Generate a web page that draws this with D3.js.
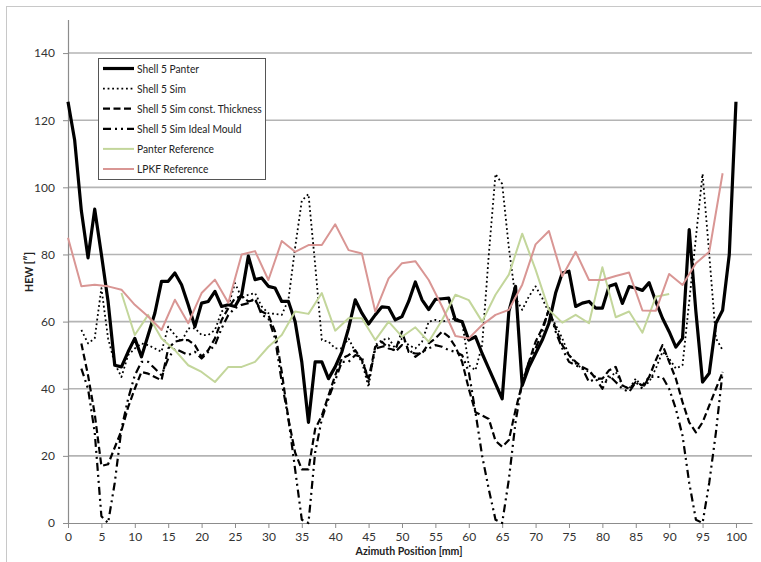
<!DOCTYPE html>
<html>
<head>
<meta charset="utf-8">
<script src="https://cdn.jsdelivr.net/npm/d3@7/dist/d3.min.js"></script>
<style>
  html, body { margin: 0; padding: 0; background: #fff; }
  svg { display: block; }
  svg text { font-family: Lato, "Open Sans", sans-serif; }
</style>
</head>
<body>
<svg id="chart" width="761" height="562"></svg>
<script>
// Azimuth positions (mm)
const panterX = d3.range(0, 101);
const simX = d3.range(2, 99);
const refX = d3.range(0, 99, 2);
const panterRefX = d3.range(8, 91, 2);

// Shell 5 Panter measurement, HEW ["] at 0..100 mm
const panterHEW = [
  125.5, 114, 93, 79, 93.5, 80, 66, 47, 46.5, 51,
  55, 49.5, 56, 62.5, 72, 72, 74.5, 71, 65, 58.5,
  65.5, 66, 69, 64.5, 65, 64.5, 68, 79.5, 72.5, 73,
  70.5, 70, 66, 66, 60, 48, 30, 48, 48, 43,
  46.5, 51, 58, 66.5, 62.5, 59.3, 62, 64.4, 64.2, 60.5,
  61.5, 66, 71.8, 66.5, 63.6, 66.6, 66.8, 67, 60.5, 60,
  54.5, 55.5, 50.5, 46, 41.5, 37, 63, 70.5, 41, 46.5,
  50.5, 54.5, 59.5, 68.5, 74.5, 75, 64.5, 65.5, 66, 64,
  64, 70.5, 71.2, 65.4, 70.4, 70, 69.3, 71.6, 66, 61,
  57, 52.4, 55, 87.4, 63, 42, 44.6, 59.5, 63.4, 80, 125.5
];

// Shell 5 Sim, 2..98 mm
const simHEW = [
  57.5, 53.5, 55, 70, 55, 47.5, 43.5, 50,
  52, 53.5, 53, 52, 51, 58.5, 56, 54, 58, 58,
  56, 56, 57.5, 63, 64.5, 71.5, 67, 68, 68.5, 64.5,
  62.5, 62.3, 62, 66.5, 82, 96, 98, 77, 54.5, 54,
  52, 52, 55, 51, 48, 40.5, 53, 54.5, 55, 52,
  55, 53, 52, 54, 60, 60.5, 60, 60.5, 61, 60,
  47, 45.5, 53, 80, 104, 101, 82, 67, 63.5, 67.5,
  70.5, 67, 62.5, 59, 55, 50, 47.5, 46, 45, 43.5,
  42, 43, 45, 41, 40, 43, 40.5, 42, 46, 51,
  49, 46, 47, 66, 85, 104, 80, 55, 51.5
];

// Shell 5 Sim const. Thickness, 2..98 mm
const constThickHEW = [
  53.5, 44, 32.5, 17, 17.5, 22.5, 27.5, 34.5,
  40, 45, 44.5, 43.5, 42.5, 52, 54, 54.5, 54.5, 53,
  49.5, 51.5, 55, 60.5, 64, 67, 67.5, 66, 66.5, 63,
  62, 57, 45, 31, 21, 16, 16, 28, 32, 38,
  44, 49, 50, 51.5, 48.5, 43, 52.5, 54, 52, 51.5,
  57, 51, 50.5, 50.5, 53.5, 55, 57, 55.5, 52.5, 48,
  40, 33, 32, 31, 24.5, 22.7, 24.7, 33.7, 41.6, 48,
  54, 58, 63.5, 58, 53, 50, 48, 46.5, 45.5, 43,
  43, 45.5, 46.5, 41, 40, 42, 41, 43.5, 48.5, 53,
  48, 43, 36, 30, 27, 30, 35, 40, 45
];

// Shell 5 Sim Ideal Mould, 2..98 mm
const idealMouldHEW = [
  46, 40, 27, 2, 0, 12, 28, 37,
  44, 48, 48, 46, 44, 49, 52, 51, 50, 51,
  49, 51, 53, 58, 62, 64, 65, 65.5, 67, 62,
  61, 55, 42, 31, 16, 1, 0, 21, 31, 37,
  42.5, 48, 48, 50, 49.5, 42, 52, 52.5, 53, 51,
  53, 52, 49.5, 51, 52, 53, 52.5, 51.5, 51, 50,
  45, 33, 20, 10, 1, 0, 13, 30, 42, 48,
  52, 57, 64, 57, 52, 48, 47, 46, 42, 43,
  40, 44, 42, 40, 39, 42, 40, 43.5, 43.5, 43.5,
  40, 34, 26, 12, 1, 0, 12, 27, 45
];

// Panter Reference, 8..90 mm
const panterRefHEW = [
  68.5, 56, 62, 55, 51.5, 47, 45, 42, 46.5, 46.5,
  48, 52.5, 56, 63, 62.3, 68.5, 57.3, 61, 61, 54.5,
  60, 55.5, 58.3, 54, 60.5, 68, 66.4, 60, 68, 74,
  86.2, 75.5, 63.5, 59.7, 62, 59.5, 76.2, 61.3, 63, 56.7,
  67.4, 68.2
];

// LPKF Reference, 0..98 mm
const lpkfRefHEW = [
  85, 70.5, 71, 70.5, 69.5, 65, 61.5, 57.5, 66.5, 59.5,
  68.5, 72.5, 65.6, 80, 81, 72.4, 84, 80.8, 82.8, 82.8,
  89, 81.3, 80.3, 63, 72.9, 77.4, 78, 72.4, 64.5, 55.7,
  55, 59, 62, 63.5, 71, 83, 87, 73.5, 80.8, 72.4,
  72.4, 73.6, 74.6, 63.3, 63.2, 74.2, 70.9, 77.4, 80.8, 104.2
];

const xTicks = d3.range(0, 101, 5);
const yTicks = d3.range(0, 141, 20);

const seriesNames = [
  "Shell 5 Panter", "Shell 5 Sim", "Shell 5 Sim const. Thickness",
  "Shell 5 Sim Ideal Mould", "Panter Reference", "LPKF Reference"
];

const series = [
  { name: seriesNames[0], xs: panterX, ys: panterHEW, color: "#000", width: 3.2, dash: null },
  { name: seriesNames[1], xs: simX, ys: simHEW, color: "#000", width: 1.8, dash: "1.8,2.8" },
  { name: seriesNames[2], xs: simX, ys: constThickHEW, color: "#000", width: 2.2, dash: "7,3.5" },
  { name: seriesNames[3], xs: simX, ys: idealMouldHEW, color: "#000", width: 2.2, dash: "8,4,2,4,2,4" },
  { name: seriesNames[4], xs: panterRefX, ys: panterRefHEW, color: "#c3d69b", width: 2, dash: null },
  { name: seriesNames[5], xs: refX, ys: lpkfRefHEW, color: "#d99694", width: 2, dash: null }
];

const svg = d3.select("#chart");

// chart frame
svg.append("rect")
  .attr("x", 6.5).attr("y", 6.5).attr("width", 760).attr("height", 560)
  .attr("fill", "none").attr("stroke", "#c8c8c8").attr("stroke-width", 1);

const x = d3.scaleLinear().domain([0, 102.4]).range([68, 752]);
const y = d3.scaleLinear().domain([0, 150]).range([523, 19.5]);

// horizontal gridlines
svg.append("g").selectAll("line")
  .data(yTicks.filter(v => v > 0))
  .join("line")
  .attr("x1", x(0)).attr("x2", x(102.4))
  .attr("y1", d => y(d)).attr("y2", d => y(d))
  .attr("stroke", "#b4b4b4").attr("stroke-width", 1.6);

// y axis
const yAxis = svg.append("g")
  .attr("transform", `translate(${x(0)},0)`)
  .call(d3.axisLeft(y).tickValues(yTicks).tickSize(5).tickPadding(8).tickSizeOuter(0));
yAxis.select(".domain").attr("stroke", "#8c8c8c").attr("stroke-width", 1.2);
yAxis.selectAll(".tick line").attr("stroke", "#8c8c8c");
yAxis.selectAll(".tick text").attr("font-size", 12).attr("fill", "#333");

// x axis
const xAxis = svg.append("g")
  .attr("transform", `translate(0,${y(0)})`)
  .call(d3.axisBottom(x).tickValues(xTicks).tickSize(5).tickPadding(4).tickSizeOuter(0));
xAxis.select(".domain").attr("stroke", "#8c8c8c").attr("stroke-width", 1.2);
xAxis.selectAll(".tick line").attr("stroke", "#8c8c8c");
xAxis.selectAll(".tick text").attr("font-size", 12).attr("fill", "#333");

// remove the font attributes d3 puts on axis groups so the stylesheet font applies
svg.selectAll("g").attr("font-family", null).attr("font-size", null);

// axis titles (slightly narrowed horizontally for a condensed look)
svg.append("text")
  .attr("transform", "translate(409,555) scale(0.88,1)")
  .attr("text-anchor", "middle")
  .attr("font-size", 12).attr("font-weight", "bold").attr("fill", "#222")
  .text("Azimuth Position [mm]");

svg.append("text")
  .attr("transform", "translate(33,272) rotate(-90)")
  .attr("text-anchor", "middle")
  .attr("font-size", 10.5).attr("font-weight", "bold").attr("fill", "#222")
  .text("HEW [\u2033]");

// data lines
const line = d3.line().x(d => x(d[0])).y(d => y(d[1]));
const plot = svg.append("g");
series.forEach(s => {
  const pts = s.xs.map((v, i) => [v, s.ys[i]]);
  plot.append("path")
    .datum(pts)
    .attr("d", line)
    .attr("fill", "none")
    .attr("stroke", s.color)
    .attr("stroke-width", s.width)
    .attr("stroke-linejoin", "round")
    .attr("stroke-dasharray", s.dash);
});

// legend
const legend = svg.append("g");
legend.append("rect")
  .attr("x", 98.5).attr("y", 58.5).attr("width", 167).attr("height", 121)
  .attr("fill", "#fff").attr("stroke", "#555").attr("stroke-width", 1);
series.forEach((s, i) => {
  const ly = 68.5 + i * 20.1;
  legend.append("line")
    .attr("x1", 103).attr("x2", 134).attr("y1", ly).attr("y2", ly)
    .attr("stroke", s.color).attr("stroke-width", s.width)
    .attr("stroke-dasharray", s.dash);
  legend.append("text")
    .attr("transform", `translate(137,${ly + 4}) scale(0.89,1)`)
    .attr("font-size", 11.5).attr("fill", "#222")
    .text(s.name);
});
</script>
</body>
</html>
